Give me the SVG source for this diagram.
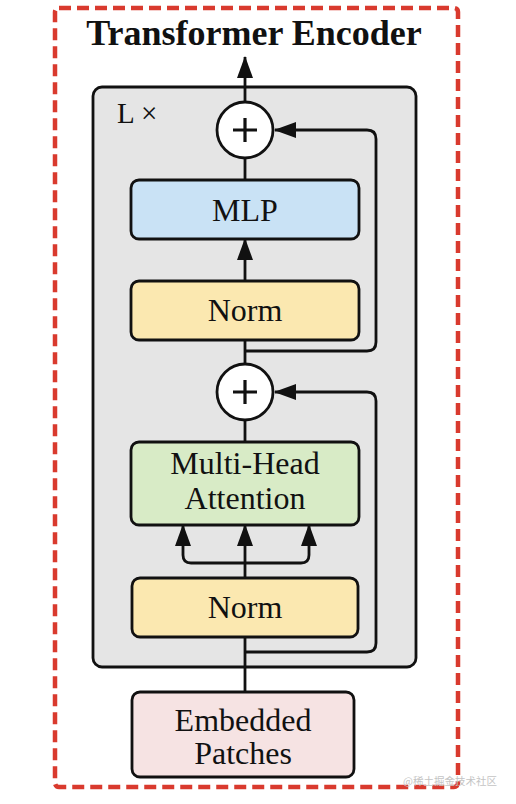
<svg xmlns="http://www.w3.org/2000/svg" width="516" height="804" viewBox="0 0 516 804">
<style>
.box{stroke:#111;stroke-width:2.8}
.lbl{font-family:"Liberation Serif","Times New Roman",serif;font-size:32px;fill:#111;text-anchor:middle}
.ln{fill:none;stroke:#111;stroke-width:2.8;stroke-linejoin:round}
.arr{marker-end:url(#ah)}
</style>
<defs>
<marker id="ah" viewBox="0 0 22 16" refX="21" refY="8" markerWidth="22" markerHeight="16" markerUnits="userSpaceOnUse" orient="auto">
<path d="M0,0 L22,8 L0,16 z" fill="#111"/>
</marker>
</defs>
<rect width="516" height="804" fill="#fff"/>
<g id="frame">
<rect x="55" y="8" width="403" height="779" rx="4" fill="none" stroke="#d93a2e" stroke-width="4.5" stroke-dasharray="12 6"/>
<text x="254" y="45" style="font-family:'Liberation Serif','Times New Roman',serif;font-size:36px;font-weight:bold;fill:#111;text-anchor:middle">Transformer Encoder</text>
</g>
<g id="block">
<rect x="93" y="87" width="323" height="580" rx="9" fill="#e5e5e5" class="box"/>
<text x="117" y="123" style="font-family:'Liberation Serif','Times New Roman',serif;font-size:29px;fill:#111">L ×</text>
</g>
<g id="connectors">
<path class="ln arr" d="M245,102 L245,57"/>
<path class="ln" d="M245,180 L245,158"/>
<path class="ln arr" d="M245,281 L245,239"/>
<path class="ln" d="M245,364 L245,340"/>
<path class="ln arr" d="M245,351 L367,351 Q376,351 376,342 L376,139 Q376,130 367,130 L275,130"/>
<path class="ln" d="M245,442 L245,420"/>
<path class="ln arr" d="M245,652 L367,652 Q376,652 376,643 L376,401 Q376,392 367,392 L275,392"/>
<path class="ln" d="M245,692 L245,637"/>
<path class="ln arr" d="M245,578 L245,525"/>
<path class="ln arr" d="M245,563 L191,563 Q183,563 183,555 L183,525"/>
<path class="ln arr" d="M245,563 L301,563 Q309,563 309,555 L309,525"/>
</g>
<g id="add-top">
<circle cx="245" cy="130" r="28" fill="#fff" class="box"/>
<path d="M233,130 L257,130 M245,118 L245,142" stroke="#111" stroke-width="3.2"/>
</g>
<g id="mlp">
<rect x="131" y="180" width="228" height="59" rx="8" fill="#c9e2f5" class="box"/>
<text x="245" y="221" class="lbl">MLP</text>
</g>
<g id="norm-top">
<rect x="131" y="281" width="228" height="59" rx="8" fill="#fbe8b0" class="box"/>
<text x="245" y="321" class="lbl">Norm</text>
</g>
<g id="add-mid">
<circle cx="245" cy="392" r="28" fill="#fff" class="box"/>
<path d="M233,392 L257,392 M245,380 L245,404" stroke="#111" stroke-width="3.2"/>
</g>
<g id="mha">
<rect x="131" y="442" width="228" height="83" rx="8" fill="#d8ebc6" class="box"/>
<text x="245" y="474" class="lbl">Multi-Head</text>
<text x="245" y="509" class="lbl">Attention</text>
</g>
<g id="norm-bottom">
<rect x="132" y="578" width="226" height="59" rx="8" fill="#fbe8b0" class="box"/>
<text x="245" y="618" class="lbl">Norm</text>
</g>
<g id="embedded">
<rect x="132" y="692" width="222" height="85" rx="8" fill="#f6e3e3" class="box"/>
<text x="243" y="731" class="lbl">Embedded</text>
<text x="243" y="764" class="lbl">Patches</text>
</g>
<text x="403" y="785" style="font-family:'Noto Sans CJK SC',sans-serif;font-size:10.5px;fill:#c4c4c4">@稀土掘金技术社区</text>
</svg>
